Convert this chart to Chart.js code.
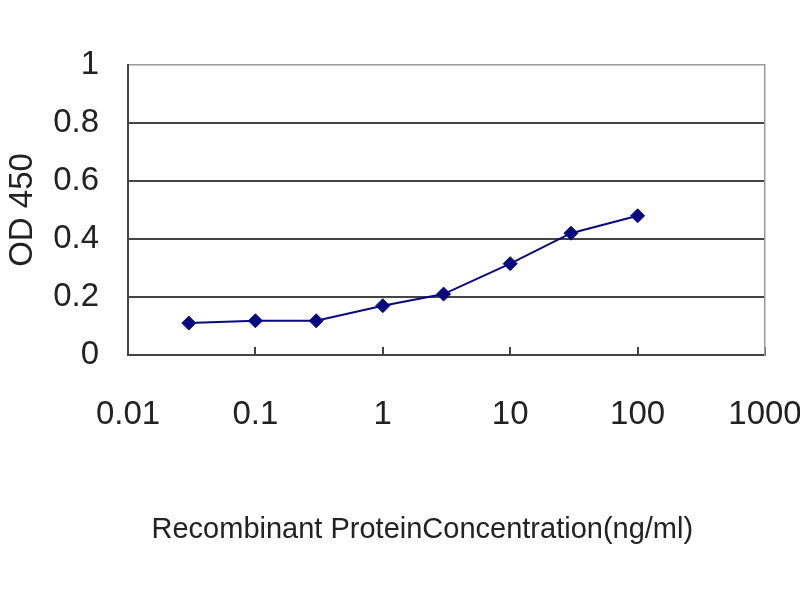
<!DOCTYPE html>
<html>
<head>
<meta charset="utf-8">
<script src="https://cdn.jsdelivr.net/npm/chart.js@4/dist/chart.umd.min.js"></script>
<style>
    html, body { margin: 0; padding: 0; background: #fff; }
    #wrap { width: 800px; height: 600px; }
</style>
</head>
<body>
<div id="wrap"><canvas id="odChart"></canvas></div>
<script>
// Values
const concentrations = [0.03, 0.1, 0.3, 1, 3, 10, 30, 100];
const odValues = [0.11, 0.118, 0.118, 0.17, 0.21, 0.315, 0.42, 0.48];
const xTickValues = [0.01, 0.1, 1, 10, 100, 1000];
const yTickValues = [0, 0.2, 0.4, 0.6, 0.8, 1];

const fontFamily = '"Liberation Sans", Arial, sans-serif';
const textColor = '#222';

new Chart(document.getElementById('odChart'), {
    type: 'line',
    data: {
        datasets: [{
            label: 'OD 450',
            data: concentrations.map((c, i) => ({ x: c, y: odValues[i] })),
            borderColor: '#0a0a80',
            backgroundColor: '#0a0a80',
            borderWidth: 2,
            pointStyle: 'rectRot',
            pointRadius: 7,
            pointBorderWidth: 1,
            tension: 0
        }]
    },
    options: {
        responsive: true,
        maintainAspectRatio: false,
        animation: false,
        layout: {
            padding: { top: 65, right: 35, bottom: 0, left: 0 }
        },
        plugins: {
            legend: { display: false },
            tooltip: { enabled: false }
        },
        scales: {
            x: {
                type: 'logarithmic',
                min: 0.01,
                max: 1000,
                afterBuildTicks: function(scale) {
                    scale.ticks = xTickValues.map(v => ({ value: v }));
                },
                afterFit: function(scale) {
                    scale.height = 245;
                    scale.paddingLeft = 0;
                    scale.paddingRight = 0;
                },
                border: { display: true, color: '#444', width: 2 },
                grid: {
                    drawOnChartArea: false,
                    drawTicks: true,
                    tickLength: -8,
                    color: '#444',
                    lineWidth: 2
                },
                ticks: {
                    padding: 48,
                    color: textColor,
                    font: { family: fontFamily, size: 33 },
                    maxRotation: 0,
                    callback: function(value) {
                        return String(value);
                    }
                },
                title: {
                    display: true,
                    // trailing spaces nudge the centred title left, as in the original
                    text: 'Recombinant ProteinConcentration(ng/ml)      ',
                    color: textColor,
                    font: { family: fontFamily, size: 29 },
                    padding: { top: 0, bottom: 53 }
                }
            },
            y: {
                min: 0,
                max: 1,
                afterBuildTicks: function(scale) {
                    scale.ticks = yTickValues.map(v => ({ value: v }));
                },
                afterFit: function(scale) {
                    scale.width = 128;
                },
                border: { display: true, color: '#444', width: 2 },
                grid: {
                    drawTicks: false,
                    color: function(ctx) {
                        return ctx.tick && ctx.tick.value === 1 ? '#9a9a9a' : '#444';
                    },
                    lineWidth: function(ctx) {
                        return ctx.tick && ctx.tick.value === 1 ? 1.5 : 2;
                    }
                },
                ticks: {
                    padding: 29,
                    color: textColor,
                    font: { family: fontFamily, size: 33 },
                    callback: function(value) {
                        return String(value);
                    }
                },
                title: {
                    display: true,
                    text: 'OD 450',
                    color: textColor,
                    font: { family: fontFamily, size: 33 },
                    padding: { top: 3, bottom: 0 }
                }
            },
            yRight: {
                position: 'right',
                min: 0,
                max: 1,
                afterFit: function(scale) {
                    scale.width = 0;
                },
                border: { display: true, color: '#9a9a9a', width: 1.5 },
                grid: { display: false },
                ticks: { display: false }
            }
        }
    }
});
</script>
</body>
</html>
